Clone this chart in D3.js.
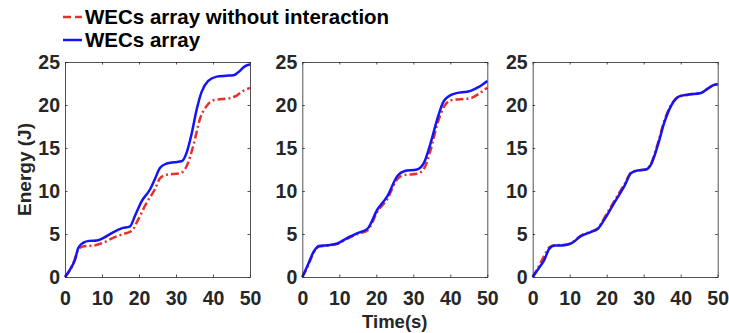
<!DOCTYPE html>
<html>
<head>
<meta charset="utf-8">
<script src="https://cdn.jsdelivr.net/npm/d3@7"></script>
<style>
  body { margin: 0; background: #fff; }
  svg text { font-family: "Liberation Sans", Arial, sans-serif; font-weight: bold; fill: #262626; }
</style>
</head>
<body>
<svg id="chart" width="729" height="333"></svg>
<script>
// [time (s), energy (J)]
const p1Array = [[0,0],[1.35,0.86],[2.7,2.0],[3.6,3.4],[5,4.0],[6.5,4.2],[8.6,4.25],[10.4,4.55],[13,5.2],[15.3,5.65],[17.6,5.9],[18.9,7.1],[20.7,8.8],[23,10.2],[24.3,11.4],[25.7,12.7],[27.5,13.2],[29.5,13.35],[31.5,13.45],[32.9,14.5],[34.2,16.6],[35.6,19.5],[36.9,21.5],[38.7,22.8],[41,23.3],[43.5,23.4],[45.5,23.45],[46.8,23.8],[48.6,24.5],[50,24.7]];
const p1NoInter = [[0,0],[1.35,0.8],[2.5,1.9],[3.6,3.2],[4.8,3.55],[7.7,3.65],[10.4,4.0],[13,4.55],[15.8,5.0],[18,5.35],[19.8,6.7],[22,8.6],[24.3,10.2],[25.7,11.5],[27.5,11.9],[31,12.05],[32.9,12.9],[34.7,15.3],[36.5,18.4],[38.3,19.9],[40.1,20.55],[42.5,20.7],[44.6,20.8],[46.4,21.1],[48.2,21.65],[50,22.0]];
const p2Array = [[0,0],[1.35,1.25],[3.15,3.0],[4.5,3.6],[6.8,3.7],[9.5,3.9],[12.2,4.55],[14.9,5.1],[17.6,5.6],[20.3,7.85],[23,9.4],[25.7,11.75],[27.5,12.3],[31,12.5],[32.9,13.3],[34.7,15.6],[36.5,18.4],[38.3,20.5],[41,21.3],[45.5,21.65],[47.7,22.1],[50,22.8]];
const p2NoInter = [[0,0],[1.35,1.1],[3.15,2.9],[4.5,3.55],[6.8,3.65],[9.5,3.85],[12.2,4.45],[14.9,5.0],[17.6,5.4],[20.3,7.6],[23,9.1],[25.7,11.4],[27.5,11.85],[31,12.0],[32.9,12.6],[34.7,14.8],[36.5,17.8],[38.3,19.8],[40.1,20.55],[45.5,20.8],[47.7,21.3],[50,22.0]];
const p3Array = [[0,0],[1.35,0.85],[3.15,2.0],[4.5,3.3],[5.9,3.65],[8.6,3.7],[10.4,3.9],[13,4.75],[15.8,5.25],[17.6,5.6],[19.4,6.7],[22,8.6],[24.8,10.6],[26.6,12.1],[28.4,12.4],[30.6,12.5],[32,13.1],[33.8,15.3],[35.6,18.0],[37.4,19.9],[39.6,21.0],[41.9,21.2],[45.5,21.4],[47.3,21.9],[49.1,22.35],[50,22.4]];
const p3NoInter = [[0,0],[1.35,1.0],[3.15,2.5],[4.5,3.45],[5.9,3.7],[8.6,3.75],[10.4,3.95],[13,4.8],[15.8,5.3],[17.6,5.65],[19.4,6.9],[22,8.8],[24.8,10.8],[26.6,12.15],[28.4,12.4],[30.6,12.5],[32,13.2],[33.8,15.5],[35.6,18.2],[37.4,20.0],[39.6,21.0],[41.9,21.2],[45.5,21.4],[47.3,21.9],[49.1,22.35],[50,22.4]];

const panels = [
  { array: p1Array, noInter: p1NoInter },
  { array: p2Array, noInter: p2NoInter },
  { array: p3Array, noInter: p3NoInter }
];
const xTicks = [0, 10, 20, 30, 40, 50];
const yTicks = [0, 5, 10, 15, 20, 25];
const legendLabels = ["WECs array without interaction", "WECs array"];

const svg = d3.select("#chart");
const panelLeft = [65, 302.3, 532.7],
      panelW = 185,
      plotTop = 62, plotBottom = 277;
const red = "#e8302a", blue = "#1414f5";

const y = d3.scaleLinear().domain([0, 25]).range([plotBottom, plotTop]);

panels.forEach((p, i) => {
  const x = d3.scaleLinear().domain([0, 50]).range([panelLeft[i], panelLeft[i] + panelW]);
  const g = svg.append("g");

  const line = d3.line()
      .x(d => x(d[0]))
      .y(d => y(d[1]))
      .curve(d3.curveMonotoneX);

  g.append("path")
      .attr("d", line(p.noInter))
      .attr("fill", "none")
      .attr("stroke", red)
      .attr("stroke-width", 2.5)
      .attr("stroke-dasharray", "8,3,2,3");
  g.append("path")
      .attr("d", line(p.array))
      .attr("fill", "none")
      .attr("stroke", blue)
      .attr("stroke-width", 2.5);

  // box with inward ticks on all sides
  const ax = g.append("g").attr("class", "axes");
  ax.append("g")
      .attr("transform", `translate(0,${plotBottom})`)
      .call(d3.axisBottom(x).tickValues(xTicks).tickSizeInner(-2.5).tickSizeOuter(0).tickPadding(14));
  ax.append("g")
      .attr("transform", `translate(0,${plotTop})`)
      .call(d3.axisTop(x).tickValues(xTicks).tickSizeInner(-2.5).tickSizeOuter(0).tickFormat(""));
  ax.append("g")
      .attr("transform", `translate(${panelLeft[i]},0)`)
      .call(d3.axisLeft(y).tickValues(yTicks).tickSizeInner(-2.5).tickSizeOuter(0).tickPadding(5));
  ax.append("g")
      .attr("transform", `translate(${panelLeft[i] + panelW},0)`)
      .call(d3.axisRight(y).tickValues(yTicks).tickSizeInner(-2.5).tickSizeOuter(0).tickFormat(""));

  ax.selectAll("path, line").attr("stroke", "#262626").attr("stroke-width", 0.8);
  ax.selectAll(".tick text").style("font-size", "19.5px").attr("fill", "#262626");
});

// axis titles
svg.append("text")
    .attr("transform", `translate(30.5,${(plotTop + plotBottom) / 2}) rotate(-90)`)
    .attr("text-anchor", "middle")
    .style("font-size", "19px")
    .text("Energy (J)");
svg.append("text")
    .attr("x", panelLeft[1] + panelW / 2)
    .attr("y", 328)
    .attr("text-anchor", "middle")
    .style("font-size", "18.5px")
    .text("Time(s)");

// legend
const leg = svg.append("g");
legendLabels.forEach((lab, i) => {
  const ly = 17 + i * 23;
  leg.append("line")
      .attr("x1", 63).attr("x2", 82)
      .attr("y1", ly).attr("y2", ly)
      .attr("stroke", i === 0 ? red : blue)
      .attr("stroke-width", 2.5)
      .attr("stroke-dasharray", i === 0 ? "8,4" : null);
  leg.append("text")
      .attr("x", 85)
      .attr("y", ly + 7)
      .style("font-size", "20.5px")
      .style("fill", "#000")
      .text(lab);
});
</script>
</body>
</html>
